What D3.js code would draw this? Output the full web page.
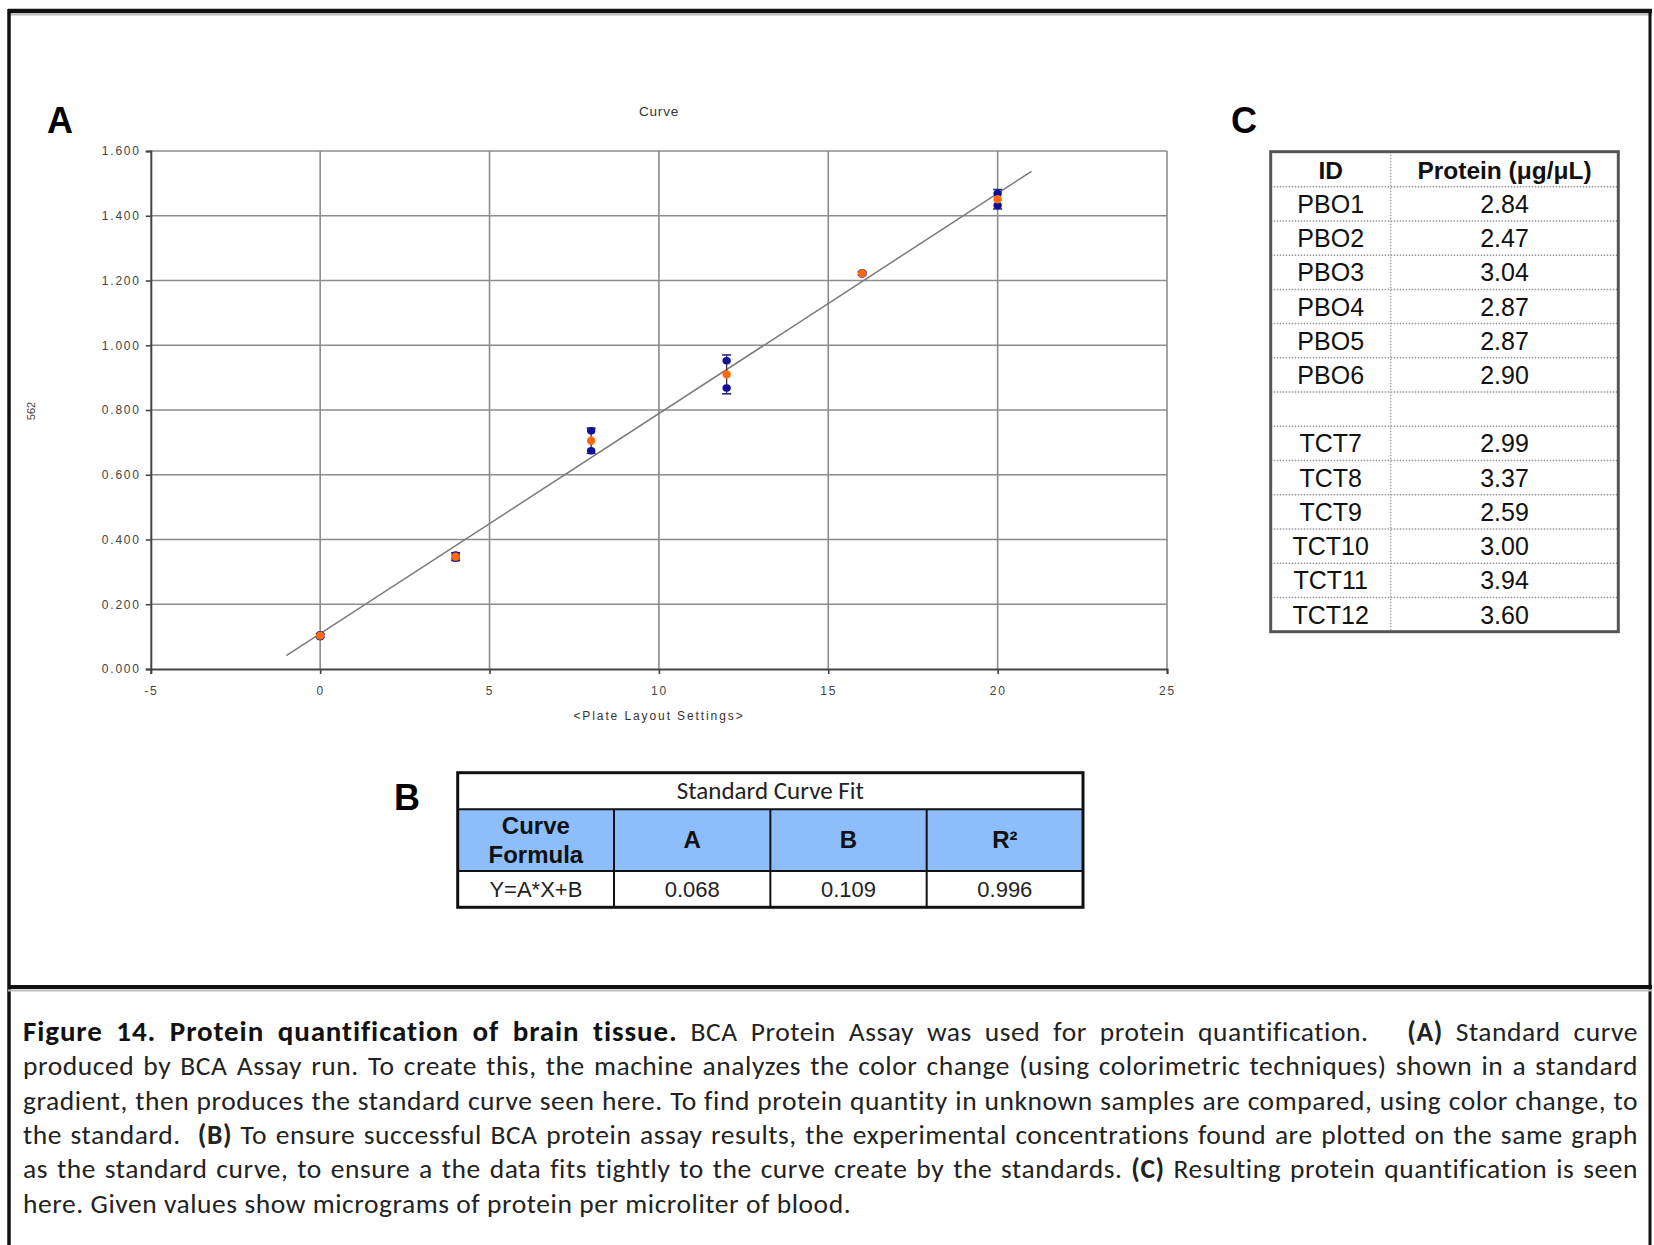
<!DOCTYPE html>
<html>
<head>
<meta charset="utf-8">
<script src="https://cdn.jsdelivr.net/npm/d3@7"></script>
<style>
  body { margin: 0; background: #fff; }
  svg { display: block; }
</style>
</head>
<body>
<div id="fig"></div>
<script>
// standard curve data (panel A)
var stdConc = [0, 4, 8, 12, 16, 20];
var rep1 = [0.100, 0.342, 0.736, 0.952, 1.220, 1.469];
var rep2 = [0.106, 0.352, 0.674, 0.868, 1.224, 1.432];
var meanAbs = [0.103, 0.347, 0.705, 0.910, 1.222, 1.451];
var errAbs = [0.005, 0.012, 0.039, 0.060, 0.004, 0.030];
var xTicks = [-5, 0, 5, 10, 15, 20, 25];
var yTicks = [0, 0.2, 0.4, 0.6, 0.8, 1.0, 1.2, 1.4, 1.6];
var trendRange = [-1, 21];

// curve fit table (panel B)
var fitTitle = "Standard Curve Fit";
var fitHeaders = [["Curve", "Formula"], ["A"], ["B"], ["R²"]];
var fitValues = ["Y=A*X+B", "0.068", "0.109", "0.996"];
var fitA = 0.068, fitB = 0.109;

// protein table (panel C)
var colHeaders = ["ID", "Protein (μg/μL)"];
var sampleIds = ["PBO1", "PBO2", "PBO3", "PBO4", "PBO5", "PBO6", "", "TCT7", "TCT8", "TCT9", "TCT10", "TCT11", "TCT12"];
var proteinVals = ["2.84", "2.47", "3.04", "2.87", "2.87", "2.90", "", "2.99", "3.37", "2.59", "3.00", "3.94", "3.60"];

// caption, [text, style]  0 = normal, 1 = bold, 2 = heading
var captionLines = [
  [["Figure 14. Protein quantification of brain tissue.", 2], [" BCA Protein Assay was used for protein quantification.   ", 0], ["(A)", 1], [" Standard curve", 0]],
  [["produced by BCA Assay run. To create this, the machine analyzes the color change (using colorimetric techniques) shown in a standard", 0]],
  [["gradient, then produces the standard curve seen here. To find protein quantity in unknown samples are compared, using color change, to", 0]],
  [["the standard.  ", 0], ["(B)", 1], [" To ensure successful BCA protein assay results, the experimental concentrations found are plotted on the same graph", 0]],
  [["as the standard curve, to ensure a the data fits tightly to the curve create by the standards. ", 0], ["(C)", 1], [" Resulting protein quantification is seen", 0]],
  [["here. Given values show micrograms of protein per microliter of blood.", 0]]
];

var W = 1654, H = 1245;
var svg = d3.select("#fig").append("svg").attr("width", W).attr("height", H);
svg.append("rect").attr("width", W).attr("height", H).attr("fill", "#fff");

var arial = "'Liberation Sans', Arial, sans-serif";
var calibri = "Carlito, Lato, sans-serif";

// ---- frame ----
svg.append("line").attr("x1", 8).attr("x2", 1652).attr("y1", 11).attr("y2", 11)
  .attr("stroke", "#111").attr("stroke-width", 4.5);
svg.append("line").attr("x1", 8).attr("x2", 1652).attr("y1", 14.5).attr("y2", 14.5)
  .attr("stroke", "#bbb").attr("stroke-width", 2);
svg.append("line").attr("x1", 9).attr("x2", 9).attr("y1", 9).attr("y2", H)
  .attr("stroke", "#111").attr("stroke-width", 3.5);
svg.append("line").attr("x1", 1650).attr("x2", 1650).attr("y1", 9).attr("y2", H)
  .attr("stroke", "#111").attr("stroke-width", 3);
svg.append("line").attr("x1", 8).attr("x2", 1652).attr("y1", 987).attr("y2", 987)
  .attr("stroke", "#111").attr("stroke-width", 4);
svg.append("line").attr("x1", 8).attr("x2", 1652).attr("y1", 990.5).attr("y2", 990.5)
  .attr("stroke", "#bbb").attr("stroke-width", 2);

// panel letters
function panelLetter(t, x, y) {
  svg.append("text").attr("x", x).attr("y", y).text(t)
    .attr("font-family", arial).attr("font-weight", "bold").attr("font-size", 36).attr("fill", "#000");
}
panelLetter("A", 47, 133);
panelLetter("B", 394, 810);
panelLetter("C", 1231, 133);

// ---- panel A: standard curve ----
var x = d3.scaleLinear().domain([-5, 25]).range([150.8, 1167]);
var y = d3.scaleLinear().domain([0, 1.6]).range([669, 151]);

var plot = svg.append("g");

// grid
plot.selectAll(".vgrid").data(xTicks.slice(1)).enter().append("line")
  .attr("class", "vgrid")
  .attr("x1", function(d) { return x(d); }).attr("x2", function(d) { return x(d); })
  .attr("y1", y(0)).attr("y2", y(1.6))
  .attr("stroke", "#8c8c8c").attr("stroke-width", 1.6);
plot.selectAll(".hgrid").data(yTicks.slice(1)).enter().append("line")
  .attr("class", "hgrid")
  .attr("x1", x(-5)).attr("x2", x(25))
  .attr("y1", function(d) { return y(d); }).attr("y2", function(d) { return y(d); })
  .attr("stroke", "#8c8c8c").attr("stroke-width", 1.6);

// axes
var xAxis = d3.axisBottom(x).tickValues(xTicks).tickSize(5).tickPadding(12)
  .tickFormat(function(d) { return String(d); });
var yAxis = d3.axisLeft(y).tickValues(yTicks).tickSize(5).tickPadding(5)
  .tickFormat(d3.format(".3f"));

var gx = plot.append("g").attr("transform", "translate(0," + y(0) + ")").call(xAxis);
var gy = plot.append("g").attr("transform", "translate(" + x(-5) + ",0)").call(yAxis);
[gx, gy].forEach(function(g) {
  g.select(".domain").attr("stroke", "#444").attr("stroke-width", 2);
  g.selectAll(".tick line").attr("stroke", "#444").attr("stroke-width", 1.6);
  g.selectAll(".tick text").attr("font-family", arial).attr("font-size", 12)
    .attr("fill", "#444").style("letter-spacing", "1.8px");
});

// trend line from fit
var trend = d3.line().x(function(d) { return x(d); }).y(function(d) { return y(fitA * d + fitB); });
plot.append("path").datum(trendRange).attr("d", trend)
  .attr("fill", "none").attr("stroke", "#7a7a7a").attr("stroke-width", 1.5);

// error bars
var eb = plot.selectAll(".err").data(stdConc).enter().append("g").attr("class", "err");
eb.append("line")
  .attr("x1", function(d) { return x(d); }).attr("x2", function(d) { return x(d); })
  .attr("y1", function(d, i) { return y(meanAbs[i] - errAbs[i]); })
  .attr("y2", function(d, i) { return y(meanAbs[i] + errAbs[i]); })
  .attr("stroke", "#334").attr("stroke-width", 1.3);
[-1, 1].forEach(function(s) {
  eb.append("line")
    .attr("x1", function(d) { return x(d) - 4.5; }).attr("x2", function(d) { return x(d) + 4.5; })
    .attr("y1", function(d, i) { return y(meanAbs[i] + s * errAbs[i]); })
    .attr("y2", function(d, i) { return y(meanAbs[i] + s * errAbs[i]); })
    .attr("stroke", "#2a2a7a").attr("stroke-width", 1.6);
});

// replicates
[rep1, rep2].forEach(function(rep) {
  plot.selectAll(null).data(stdConc).enter().append("ellipse")
    .attr("cx", function(d) { return x(d); })
    .attr("cy", function(d, i) { return y(rep[i]); })
    .attr("rx", 4.2).attr("ry", 3.7)
    .attr("fill", "#10109a");
});
// means
plot.selectAll(".mean").data(stdConc).enter().append("circle")
  .attr("class", "mean")
  .attr("cx", function(d) { return x(d); })
  .attr("cy", function(d, i) { return y(meanAbs[i]); })
  .attr("r", 4.2)
  .attr("fill", "#ff6a0a");

// titles
plot.append("text").attr("x", 659).attr("y", 115.5).attr("text-anchor", "middle")
  .attr("font-family", arial).attr("font-size", 13.5).attr("fill", "#333")
  .style("letter-spacing", "0.8px").text("Curve");
plot.append("text").attr("x", 659).attr("y", 720).attr("text-anchor", "middle")
  .attr("font-family", arial).attr("font-size", 12).attr("fill", "#333")
  .style("letter-spacing", "1.9px").text("<Plate Layout Settings>");
plot.append("text").attr("transform", "translate(35,411) rotate(-90)").attr("text-anchor", "middle")
  .attr("font-family", arial).attr("font-size", 11).attr("fill", "#444").text("562");

// ---- panel B: curve fit table ----
var bx = d3.scaleLinear().domain([0, 4]).range([457.7, 1083]);
var bRows = [772.7, 809.3, 871, 907.3];
var tb = svg.append("g");
tb.append("rect").attr("x", bx(0)).attr("y", bRows[1]).attr("width", bx(4) - bx(0))
  .attr("height", bRows[2] - bRows[1]).attr("fill", "#8dbdfa");
tb.append("text").attr("x", bx(2)).attr("y", 799).attr("text-anchor", "middle")
  .attr("font-family", calibri).attr("font-size", 25).attr("fill", "#222").text(fitTitle);
fitHeaders.forEach(function(h, i) {
  var t = tb.append("text").attr("text-anchor", "middle").attr("font-family", arial)
    .attr("font-weight", "bold").attr("font-size", 24).attr("fill", "#111");
  if (h.length === 2) {
    t.append("tspan").attr("x", bx(i + 0.5)).attr("y", 834).text(h[0]);
    t.append("tspan").attr("x", bx(i + 0.5)).attr("y", 863).text(h[1]);
  } else {
    t.attr("x", bx(i + 0.5)).attr("y", 848).text(h[0]);
  }
});
tb.selectAll(".val").data(fitValues).enter().append("text")
  .attr("x", function(d, i) { return bx(i + 0.5); }).attr("y", 897)
  .attr("text-anchor", "middle").attr("font-family", arial).attr("font-size", 22)
  .attr("fill", "#222").text(function(d) { return d; });
// lines
tb.selectAll(".colline").data([1, 2, 3]).enter().append("line")
  .attr("x1", function(d) { return bx(d); }).attr("x2", function(d) { return bx(d); })
  .attr("y1", bRows[1]).attr("y2", bRows[3]).attr("stroke", "#111").attr("stroke-width", 2);
tb.selectAll(".rowline").data([bRows[1], bRows[2]]).enter().append("line")
  .attr("x1", bx(0)).attr("x2", bx(4))
  .attr("y1", function(d) { return d; }).attr("y2", function(d) { return d; })
  .attr("stroke", "#111").attr("stroke-width", 2);
tb.append("rect").attr("x", bx(0)).attr("y", bRows[0]).attr("width", bx(4) - bx(0))
  .attr("height", bRows[3] - bRows[0]).attr("fill", "none").attr("stroke", "#111").attr("stroke-width", 3);

// ---- panel C: protein table ----
var cLeft = 1270.7, cMid = 1390.7, cRight = 1618.3, cTop = 151.7, cHead = 186.7, cBottom = 631.7;
var rowY = d3.scaleLinear().domain([0, sampleIds.length]).range([cHead, cBottom]);
var tc = svg.append("g");
var dotted = sampleIds.map(function(d, i) { return i; });
tc.selectAll(".dot").data(dotted).enter().append("line")
  .attr("x1", cLeft).attr("x2", cRight)
  .attr("y1", function(d) { return rowY(d); }).attr("y2", function(d) { return rowY(d); })
  .attr("stroke", "#999").attr("stroke-width", 1.5).attr("stroke-dasharray", "1.5,1.5");
tc.append("line").attr("x1", cMid).attr("x2", cMid).attr("y1", cTop).attr("y2", cBottom)
  .attr("stroke", "#aaa").attr("stroke-width", 1.5).attr("stroke-dasharray", "1.5,1.5");
tc.append("rect").attr("x", cLeft).attr("y", cTop).attr("width", cRight - cLeft)
  .attr("height", cBottom - cTop).attr("fill", "none").attr("stroke", "#555").attr("stroke-width", 3);
tc.selectAll(".hd").data(colHeaders).enter().append("text")
  .attr("x", function(d, i) { return i === 0 ? (cLeft + cMid) / 2 : (cMid + cRight) / 2; })
  .attr("y", 179).attr("text-anchor", "middle").attr("font-family", arial)
  .attr("font-weight", "bold").attr("font-size", 24.5).attr("fill", "#111")
  .text(function(d) { return d; });
tc.selectAll(".id").data(sampleIds).enter().append("text")
  .attr("x", (cLeft + cMid) / 2).attr("y", function(d, i) { return rowY(i + 0.5) + 9; })
  .attr("text-anchor", "middle").attr("font-family", arial).attr("font-size", 25).attr("fill", "#111")
  .text(function(d) { return d; });
tc.selectAll(".pv").data(proteinVals).enter().append("text")
  .attr("x", (cMid + cRight) / 2).attr("y", function(d, i) { return rowY(i + 0.5) + 9; })
  .attr("text-anchor", "middle").attr("font-family", arial).attr("font-size", 25).attr("fill", "#111")
  .text(function(d) { return d; });

// ---- caption ----
var capLeft = 23, capRight = 1638;
captionLines.forEach(function(segs, li) {
  var t = svg.append("text").attr("x", capLeft).attr("y", 1041 + li * 34.3)
    .attr("font-family", calibri).attr("font-size", 27.5).attr("fill", "#222")
    .style("white-space", "pre").style("letter-spacing", "0.55px");
  segs.forEach(function(s) {
    var ts = t.append("tspan").attr("font-weight", s[1] ? "bold" : "normal").text(s[0]);
    if (s[1] === 2) ts.attr("font-size", 29).attr("fill", "#111").style("letter-spacing", "0.9px");
  });
  if (li < captionLines.length - 1) {
    var full = segs.map(function(s) { return s[0]; }).join("");
    var n = full.split(" ").length - 1;
    var len = t.node().getComputedTextLength();
    t.style("word-spacing", ((capRight - capLeft - len) / n) + "px");
  }
});
</script>
</body>
</html>
